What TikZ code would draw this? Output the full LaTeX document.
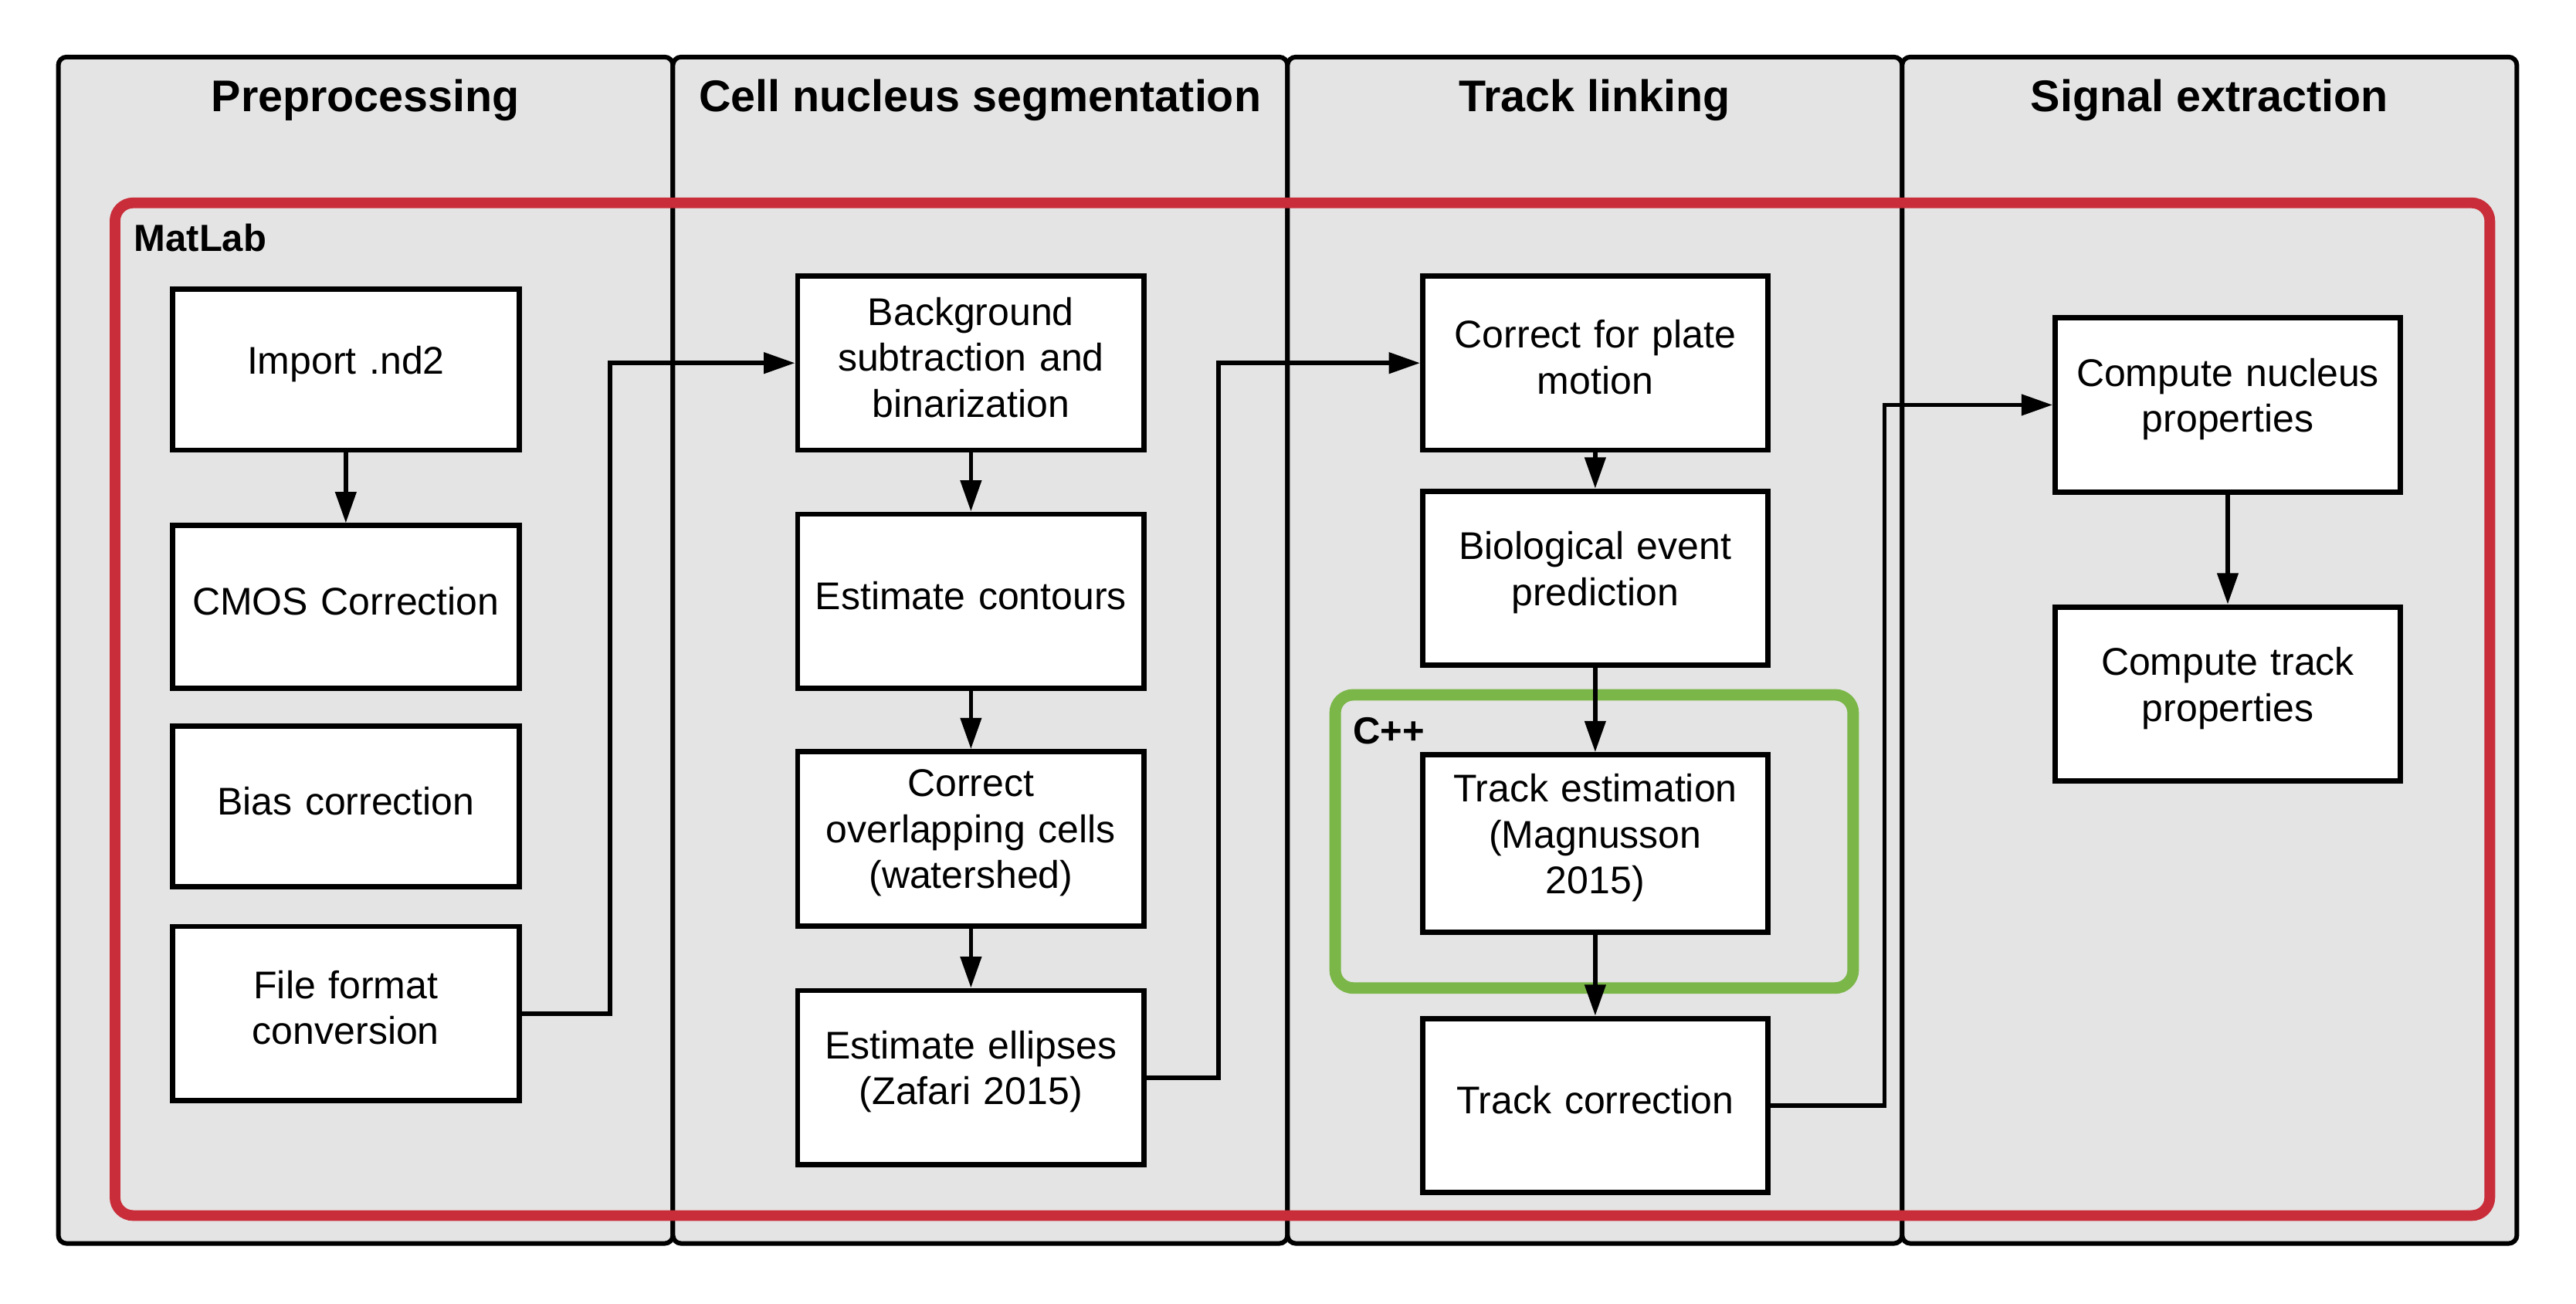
\documentclass[tikz,border=0pt]{standalone}
\usepackage{fontspec}
\setmainfont{Liberation Sans}
\usetikzlibrary{arrows.meta}
\definecolor{lanegray}{HTML}{E4E4E4}
\definecolor{matlabred}{HTML}{C92D39}
\definecolor{cppgreen}{HTML}{7AB648}
\def\bw{211}
\def\bh{106}
\def\boxpad{\endgraf\kern7pt}
\def\pfeil#1#2{
	\draw[->,conn] #1 -- #2;
}

\begin{document}
\begin{tikzpicture}[x=1pt,y=-1pt,>={Triangle[length=19pt,width=12.5pt]},
	lane/.style={draw=black,fill=lanegray,line width=2.8pt,rounded corners=5pt},
	lanetitle/.style={font=\fontsize{27}{32}\selectfont\bfseries},
	grouplabel/.style={anchor=west,inner sep=0pt,font=\fontsize{23}{28}\selectfont\bfseries},
	stepbox/.style={draw=black,fill=white,line width=3.2pt,minimum width=\bw pt,minimum height=\bh pt,
		inner sep=0pt,text width=205pt,align=center,font=\fontsize{23.5}{28}\selectfont,
		execute at end node=\boxpad},
	conn/.style={line width=2.7pt}]
\useasboundingbox (0,0) rectangle (1568,793.4);
% lanes
\draw[lane] (35.5,34.7) rectangle (409.6,757);
\draw[lane] (409.6,34.7) rectangle (783.7,757);
\draw[lane] (783.7,34.7) rectangle (1157.8,757);
\draw[lane] (1157.8,34.7) rectangle (1532,757);
\node[lanetitle] (t1) at (222.5,61) {Preprocessing};
\node[lanetitle] (t2) at (596.6,61) {Cell nucleus segmentation};
\node[lanetitle] (t3) at (970.7,61) {Track linking};
\node[lanetitle] (t4) at (1344.9,61) {Signal extraction};
% language groups
\draw[matlabred,line width=6.5pt,rounded corners=11pt] (70,123.5) rectangle (1515.5,740);
\node[grouplabel] (matlab) at (81.5,145) {MatLab};
\draw[cppgreen,line width=7pt,rounded corners=11pt] (812.7,423) rectangle (1128,601.5);
\node[grouplabel] (cpp) at (823.5,445) {C++};
% steps
\coordinate (p1) at (210.5,225);
\coordinate (p2) at (210.5,369.5);
\coordinate (p3) at (210.5,491);
\coordinate (p4) at (210.5,617);
\coordinate (s1) at (591,221);
\coordinate (s2) at (591,366);
\coordinate (s3) at (591,510.6);
\coordinate (s4) at (591,656);
\coordinate (l1) at (971,221);
\coordinate (l2) at (971,352);
\coordinate (l3) at (971,513.5);
\coordinate (l4) at (971,673);
\coordinate (e1) at (1356,246.5);
\coordinate (e2) at (1356,422.5);
\node[stepbox,minimum height=98pt] (imp) at (p1) {Import .nd2};
\node[stepbox,minimum height=99pt] (cmos) at (p2) {CMOS Correction};
\node[stepbox,minimum height=98pt] (bias) at (p3) {Bias correction};
\node[stepbox] (conv) at (p4) {File format\\conversion};
\node[stepbox] (bgsub) at (s1) {Background\\subtraction and\\binarization};
\node[stepbox] (cont) at (s2) {Estimate contours};
\node[stepbox] (ovl) at (s3) {Correct\\overlapping cells\\(watershed)};
\node[stepbox] (ell) at (s4) {Estimate ellipses\\(Zafari 2015)};
\node[stepbox,minimum width=210pt] (plate) at (l1) {Correct for plate\\motion};
\node[stepbox,minimum width=210pt] (bio) at (l2) {Biological event\\prediction};
\node[stepbox,minimum width=210pt,minimum height=108pt] (trest) at (l3) {Track estimation\\(Magnusson\\2015)};
\node[stepbox,minimum width=210pt] (trcor) at (l4) {Track correction};
\node[stepbox,minimum width=210pt] (nucl) at (e1) {Compute nucleus\\properties};
\node[stepbox,minimum width=210pt] (trpr) at (e2) {Compute track\\properties};
% flow
\pfeil{(imp)}{(cmos)}
\pfeil{(bgsub)}{(cont)}
\pfeil{(cont)}{(ovl)}
\pfeil{(ovl)}{(ell)}
\pfeil{(plate)}{(bio)}
\pfeil{(bio)}{(trest)}
\pfeil{(trest)}{(trcor)}
\pfeil{(nucl)}{(trpr)}
\draw[->,conn] (conv.east) -- ++(53.7,0) |- (bgsub.west);
\draw[->,conn] (ell.east) -- ++(43.5,0) |- (plate.west);
\draw[->,conn] (trcor.east) -- ++(69.5,0) |- (nucl.west);
\end{tikzpicture}
\end{document}
